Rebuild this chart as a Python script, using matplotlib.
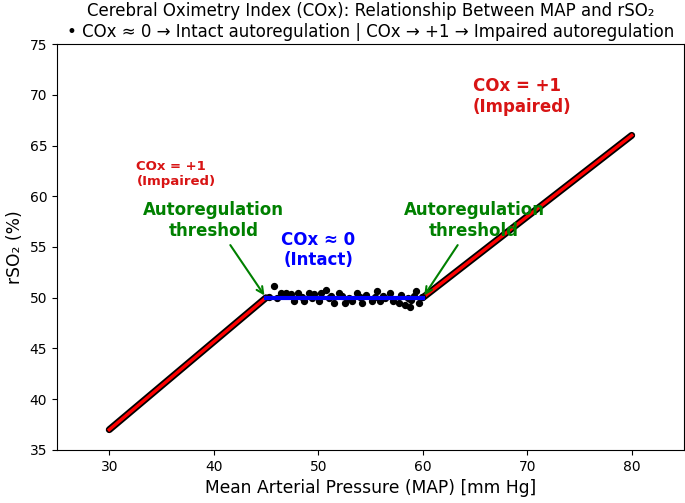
import matplotlib.pyplot as plt

# piecewise relationship (MAP in mm Hg, rSO2 in %)
map_low = [30, 45]
rso2_low = [37, 50]
map_high = [60, 80]
rso2_high = [50, 66]
plateau_map = [45, 60]
plateau_rso2 = [50, 50]

# scattered readings on the plateau
flat_map = [45.3, 45.8, 46.1, 46.4, 46.9, 47.35, 47.7, 48.1, 48.4, 48.6, 49.1, 49.4,
            49.6, 50.05, 50.3, 50.7, 51.0, 51.2, 51.5, 52.0, 52.3, 52.6, 52.9, 53.2,
            53.7, 54.0, 54.2, 54.6, 55.1, 55.4, 55.6, 55.9, 56.2, 56.4, 56.9, 57.2,
            57.7, 57.95, 58.3, 58.6, 58.8, 58.9, 59.2, 59.4, 59.6, 59.9]
flat_rso2 = [50.1, 51.2, 50.0, 50.5, 50.5, 50.4, 49.7, 50.5, 50.1, 49.7, 50.5, 50.0,
             50.4, 49.7, 50.5, 50.8, 50.0, 50.2, 49.5, 50.5, 50.15, 49.5, 50.0, 49.7,
             50.5, 50.1, 49.5, 50.3, 49.7, 50.1, 50.7, 49.7, 50.2, 50.0, 50.5, 49.7,
             49.5, 50.3, 49.3, 50.0, 49.1, 49.8, 50.2, 50.7, 49.5, 50.1]

fig, ax = plt.subplots(figsize=(6.85, 5.03), dpi=100)
fig.subplots_adjust(left=0.0832, right=0.9985, top=0.9125, bottom=0.1054)

# raw readings (dense along the sloped parts)
ax.plot(map_low, rso2_low, color='black', lw=5, solid_capstyle='round')
ax.plot(map_high, rso2_high, color='black', lw=5, solid_capstyle='round')
ax.plot(map_low, rso2_low, color='red', lw=2.4)
ax.plot(map_high, rso2_high, color='red', lw=2.4)
ax.scatter(flat_map, flat_rso2, s=18, color='black', zorder=3)
ax.plot(plateau_map, plateau_rso2, color='blue', lw=3, zorder=4)

ax.annotate('Autoregulation\nthreshold', xy=(45, 50), xytext=(40, 57.6),
            ha='center', va='center', color='green', fontsize=12, fontweight='bold',
            arrowprops=dict(arrowstyle='->', color='green', lw=1.5))
ax.annotate('Autoregulation\nthreshold', xy=(60, 50), xytext=(64.9, 57.6),
            ha='center', va='center', color='green', fontsize=12, fontweight='bold',
            arrowprops=dict(arrowstyle='->', color='green', lw=1.5))
ax.text(50, 54.7, 'COx ≈ 0\n(Intact)', ha='center', va='center', color='blue',
        fontsize=12, fontweight='bold')
ax.text(32.6, 62.2, 'COx = +1\n(Impaired)', ha='left', va='center', color='#d81414',
        fontsize=9.5, fontweight='bold')
ax.text(64.8, 69.8, 'COx = +1\n(Impaired)', ha='left', va='center', color='#d81414',
        fontsize=12, fontweight='bold')

ax.set_xlim(25, 85)
ax.set_ylim(35, 75)
ax.set_xticks([30, 40, 50, 60, 70, 80])
ax.tick_params(labelsize=10)
ax.set_xlabel('Mean Arterial Pressure (MAP) [mm Hg]', fontsize=12.3)
ax.set_ylabel('rSO₂ (%)', fontsize=12.3)
ax.set_title('Cerebral Oximetry Index (COx): Relationship Between MAP and rSO₂\n'
             '• COx ≈ 0 → Intact autoregulation | COx → +1 → Impaired autoregulation',
             fontsize=12, pad=5)

plt.savefig('out.png')
